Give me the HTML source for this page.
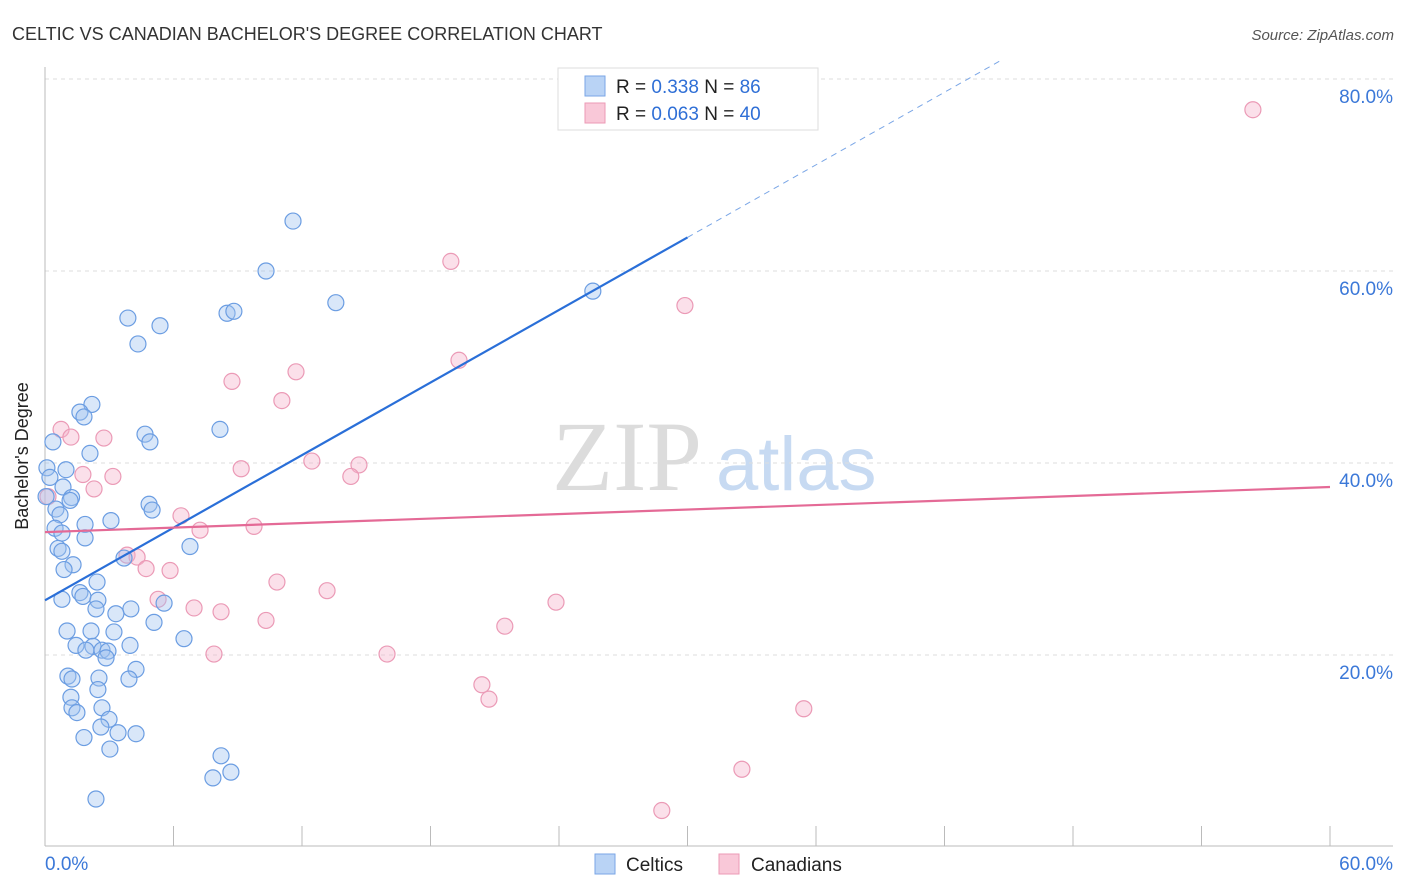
<!DOCTYPE html>
<html><head><meta charset="utf-8"><style>
html,body{margin:0;padding:0;background:#fff;}
svg{display:block;font-family:"Liberation Sans",sans-serif;}
</style></head><body>
<svg id="chart" width="1406" height="892" viewBox="0 0 1406 892" xmlns="http://www.w3.org/2000/svg">
<text x="12" y="40" font-size="18" fill="#333">CELTIC VS CANADIAN BACHELOR'S DEGREE CORRELATION CHART</text>
<text x="1394" y="40" font-size="15" fill="#555" font-style="italic" text-anchor="end">Source: ZipAtlas.com</text>
<g>
<text x="552" y="490" font-size="100" fill="#dcdcdc" font-family="Liberation Serif,serif">ZIP</text>
<text x="716" y="490" font-size="76" fill="#c7daf2">atlas</text>
</g>
<g id="grid"></g>
<g id="axes"></g>
<g id="pts"></g>
<g id="lines"></g>
<text x="28" y="456" font-size="18" fill="#222" text-anchor="middle" transform="rotate(-90 28 456)">Bachelor's Degree</text>
<g>
<rect x="558" y="68" width="260" height="62" fill="#fff" stroke="#ddd"/>
<rect x="585" y="76" width="20" height="20" fill="#b9d3f5" stroke="#7aa6e6"/>
<rect x="585" y="103" width="20" height="20" fill="#f9c8d8" stroke="#ec9ab6"/>
<text x="616" y="93" font-size="19" fill="#222">R = <tspan fill="#2f6fd6">0.338</tspan>   N = <tspan fill="#2f6fd6">86</tspan></text>
<text x="616" y="120" font-size="19" fill="#222">R = <tspan fill="#2f6fd6">0.063</tspan>   N = <tspan fill="#2f6fd6">40</tspan></text>
</g>
<g>
<rect x="595" y="854" width="20" height="20" fill="#b9d3f5" stroke="#7aa6e6"/>
<text x="626" y="871" font-size="19" fill="#222">Celtics</text>
<rect x="719" y="854" width="20" height="20" fill="#f9c8d8" stroke="#ec9ab6"/>
<text x="751" y="871" font-size="19" fill="#222">Canadians</text>
</g>
</svg>
<script>
const celticsX=[11.58,10.32,13.58,25.58,3.87,5.37,8.50,8.82,4.34,2.19,1.63,1.82,4.67,4.90,8.17,0.37,2.10,0.09,0.98,0.23,0.84,1.24,1.17,4.86,5.00,0.51,0.70,3.08,1.87,0.47,0.79,1.87,0.61,0.79,6.77,3.69,1.31,0.89,2.43,1.63,1.77,0.79,2.47,5.56,2.38,4.01,3.31,5.09,1.03,2.15,3.22,6.49,1.45,2.24,3.97,1.91,2.66,2.94,2.85,4.25,1.07,1.26,2.52,3.92,2.47,1.21,1.26,2.66,1.49,2.99,2.61,3.41,4.25,1.82,3.03,8.22,7.84,8.68,2.38,0.05];
const celticsY=[65.2,60.0,56.7,57.9,55.1,54.3,55.6,55.8,52.4,46.1,45.3,44.8,43.0,42.2,43.5,42.2,41.0,39.5,39.3,38.5,37.5,36.4,36.1,35.7,35.1,35.2,34.6,34.0,33.6,33.2,32.7,32.2,31.1,30.8,31.3,30.1,29.4,28.9,27.6,26.5,26.1,25.8,25.7,25.4,24.8,24.8,24.3,23.4,22.5,22.5,22.4,21.7,21.0,20.9,21.0,20.5,20.5,20.4,19.7,18.5,17.8,17.5,17.6,17.5,16.4,15.6,14.5,14.5,14.0,13.3,12.5,11.9,11.8,11.4,10.2,9.5,7.2,7.8,5.0,36.5];
const canadiansX=[56.4,18.95,29.88,19.33,11.72,8.73,11.06,0.75,1.21,2.75,12.46,14.66,9.16,14.28,3.17,1.77,2.29,0.14,6.35,7.24,9.76,3.83,4.30,4.72,5.84,10.83,13.17,5.28,23.86,6.96,8.22,10.32,21.47,7.89,15.97,20.40,20.73,35.43,32.54,28.80];
const canadiansY=[76.8,61.0,56.4,50.7,49.5,48.5,46.5,43.5,42.7,42.6,40.2,39.8,39.4,38.6,38.6,38.8,37.3,36.5,34.5,33.0,33.4,30.4,30.2,29.0,28.8,27.6,26.7,25.8,25.5,24.9,24.5,23.6,23.0,20.1,20.1,16.9,15.4,14.4,8.1,3.8];
const yTicks=[20,40,60,80];
const yTickLabels=["20.0%","40.0%","60.0%","80.0%"];
const xTicks=[0,6,12,18,24,30,36,42,48,54,60];
const xTickLabels=["0.0%","60.0%"];
const celticsTrend=[25.7,63.5];
const canadiansTrend=[32.8,37.5];

const NS="http://www.w3.org/2000/svg";
const X0=45,X1=1330,Y0=847,PPY=9.6;
function sx(v){return X0+(X1-X0)*v/60;}
function sy(v){return Y0-v*PPY;}
function mk(tag,attrs,parent){const e=document.createElementNS(NS,tag);for(const k in attrs)e.setAttribute(k,attrs[k]);parent.appendChild(e);return e;}
const grid=document.getElementById('grid'),axes=document.getElementById('axes'),pts=document.getElementById('pts'),lines=document.getElementById('lines'),svg=document.getElementById('chart');
yTicks.forEach((t,i)=>{
  const l=mk('line',{x1:45,x2:1393,y1:sy(t),y2:sy(t),stroke:'#ddd','stroke-dasharray':'4,4'},grid);
  
  
  const tx=mk('text',{x:1393,y:sy(t)+24,'font-size':19,fill:'#3b78d8','text-anchor':'end'},axes);
  tx.textContent=yTickLabels[i];
  
  
});
const ax=mk('line',{x1:45,x2:1393,y1:846,y2:846,stroke:'#bbb'},axes);


const ay=mk('line',{x1:45,x2:45,y1:67,y2:846,stroke:'#bbb'},axes);


xTicks.forEach(t=>{
  const l=mk('line',{x1:sx(t),x2:sx(t),y1:826,y2:846,stroke:'#bbb'},axes);
  
  
});
const xl0=mk('text',{x:45,y:870,'font-size':19,fill:'#3b78d8'},axes);
xl0.textContent=xTickLabels[0];


const xl1=mk('text',{x:1393,y:870,'font-size':19,fill:'#3b78d8','text-anchor':'end'},axes);
xl1.textContent=xTickLabels[1];


canadiansX.forEach((v,i)=>{
  const c=mk('circle',{cx:sx(v),cy:sy(canadiansY[i]),r:8,fill:'rgba(246,178,202,0.4)',stroke:'#eb9ab6','stroke-width':1.2},pts);
  
  
});
celticsX.forEach((v,i)=>{
  const c=mk('circle',{cx:sx(v),cy:sy(celticsY[i]),r:8,fill:'rgba(160,195,240,0.4)',stroke:'#6b9de2','stroke-width':1.2},pts);
  
  
});
const slope=(celticsTrend[1]-celticsTrend[0])/30;
const bl=mk('line',{x1:sx(0),y1:sy(celticsTrend[0]),x2:sx(30),y2:sy(celticsTrend[1]),stroke:'#2a6fd8','stroke-width':2.2},lines);


const xEnd=(82-celticsTrend[0])/slope;
const bd=mk('line',{x1:sx(30),y1:sy(celticsTrend[1]),x2:sx(xEnd),y2:sy(celticsTrend[0]+slope*xEnd),stroke:'#7aa6e6','stroke-width':1,'stroke-dasharray':'6,5'},lines);


const pl=mk('line',{x1:sx(0),y1:sy(canadiansTrend[0]),x2:sx(60),y2:sy(canadiansTrend[1]),stroke:'#e46a96','stroke-width':2.2},lines);


</script>
</body></html>
